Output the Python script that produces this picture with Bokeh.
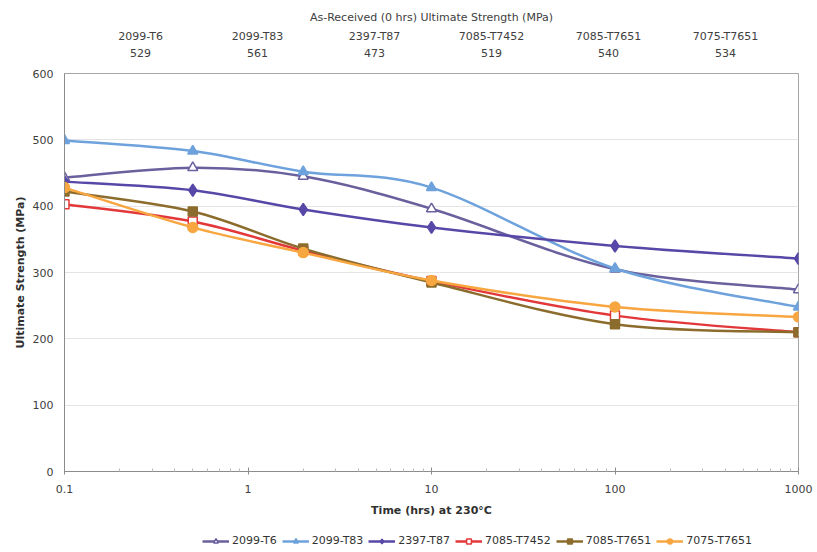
import numpy as np
from bokeh.plotting import figure
from bokeh.layouts import column
from bokeh.models import (ColumnDataSource, Legend, LegendItem, LinearAxis, Range1d,
                          FixedTicker, CustomJSTickFormatter, LinearScale)
from bokeh.embed import file_html
from bokeh.resources import INLINE

# ---- data ----
times = [0.1, 0.5, 2, 10, 100, 1000]
alloys = ["2099-T6", "2099-T83", "2397-T87", "7085-T7452", "7085-T7651", "7075-T7651"]
as_received = [529, 561, 473, 519, 540, 534]
s_2099_T6 = [443, 458, 445, 396, 305, 274]
s_2099_T83 = [499, 483, 452, 428, 306, 248]
s_2397_T87 = [437, 424, 395, 368, 340, 321]
s_7085_T7452 = [403, 377, 333, 287, 235, 210]
s_7085_T7651 = [422, 392, 336, 285, 222, 210]
s_7075_T7651 = [428, 368, 330, 288, 248, 233]

series = [s_2099_T6, s_2099_T83, s_2397_T87, s_7085_T7452, s_7085_T7651, s_7075_T7651]
colors = ["#6A609E", "#6EA2DC", "#5748A8", "#E2383A", "#8C6C2C", "#F7A640"]
markers = ["triangle", "triangle", "diamond", "square", "square", "circle"]
fills = ["white", None, None, "white", None, None]
sizes = [10, 10, 12, 9, 9, 10]

FONT = "DejaVu Sans"
TXT = "#404040"

p = figure(width=817, height=522, x_axis_type="log", output_backend="svg",
           toolbar_location=None, x_range=(0.1, 1000), y_range=(0, 600),
           frame_width=734, frame_height=398,
           min_border_left=64, min_border_right=19, min_border_top=73, min_border_bottom=51)
p.outline_line_color = "#A6A6A6"
p.outline_line_width = 1
p.background_fill_color = "white"
p.border_fill_color = "white"

# grid
p.xgrid.visible = False
p.ygrid.grid_line_color = "#E4E4E4"
p.ygrid.grid_line_width = 1

# axes
p.xaxis.ticker = FixedTicker(ticks=[0.1, 1, 10, 100, 1000],
                             minor_ticks=[m * d for d in [0.1, 1, 10, 100] for m in range(2, 10)])
p.xaxis.formatter = CustomJSTickFormatter(code="return tick.toString();")
p.xaxis.axis_label = "Time (hrs) at 230°C"
p.yaxis.axis_label = "Ultimate Strength (MPa)"
p.yaxis.ticker = FixedTicker(ticks=[0, 100, 200, 300, 400, 500, 600])
for ax in [p.xaxis[0], p.yaxis[0]]:
    ax.axis_label_text_font = FONT
    ax.axis_label_text_font_size = "11px"
    ax.axis_label_text_font_style = "bold"
    ax.axis_label_text_color = "#303030"
    ax.major_label_text_font = FONT
    ax.major_label_text_font_size = "11px"
    ax.major_label_text_color = TXT
    ax.axis_line_color = "#8C8C8C"
    ax.major_tick_line_color = "#8C8C8C"
    ax.minor_tick_line_color = "#BBBBBB"
p.xaxis.major_tick_in = 4
p.xaxis.major_tick_out = 3
p.xaxis.minor_tick_in = 3
p.xaxis.minor_tick_out = 0
p.xaxis.major_label_standoff = 10
p.xaxis.axis_label_standoff = 8
p.yaxis.major_tick_in = 0
p.yaxis.major_tick_out = 0
p.yaxis.minor_tick_in = 0
p.yaxis.minor_tick_out = 0
p.yaxis.major_label_standoff = 11
p.yaxis.axis_label_standoff = 3

# top axis with as-received values
p.extra_x_ranges = {"top": Range1d(-0.65, 5.624)}
p.extra_x_scales = {"top": LinearScale()}
top = LinearAxis(x_range_name="top")
top.ticker = FixedTicker(ticks=list(range(len(alloys))))
top.major_label_overrides = {i: f"{a}\n{v}" for i, (a, v) in enumerate(zip(alloys, as_received))}
top.axis_label = "As-Received (0 hrs) Ultimate Strength (MPa)"
top.axis_label_text_font = FONT
top.axis_label_text_font_size = "11px"
top.axis_label_text_font_style = "normal"
top.axis_label_text_color = TXT
top.major_label_text_font = FONT
top.major_label_text_font_size = "11px"
top.major_label_text_color = TXT
top.major_label_text_line_height = 1.25
top.axis_line_color = None
top.major_tick_line_color = None
top.minor_tick_line_color = None
top.major_label_standoff = 8
top.axis_label_standoff = 3
p.add_layout(top, "above")


def smooth(xs, ys):
    lx = np.log10(np.array(xs, dtype=float))
    y = np.array(ys, dtype=float)
    n = len(lx)
    out = dict(x0=[], y0=[], x1=[], y1=[], cx0=[], cy0=[], cx1=[], cy1=[])
    for i in range(n - 1):
        a = i - 1 if i > 0 else i
        b = i + 2 if i + 2 < n else i + 1
        c0x = lx[i] + (lx[i + 1] - lx[a]) / 6.0
        c0y = y[i] + (y[i + 1] - y[a]) / 6.0
        c1x = lx[i + 1] - (lx[b] - lx[i]) / 6.0
        c1y = y[i + 1] - (y[b] - y[i]) / 6.0
        out["x0"].append(10 ** lx[i]); out["y0"].append(y[i])
        out["x1"].append(10 ** lx[i + 1]); out["y1"].append(y[i + 1])
        out["cx0"].append(10 ** c0x); out["cy0"].append(c0y)
        out["cx1"].append(10 ** c1x); out["cy1"].append(c1y)
    return out


# legend strip: a small figure whose own renderers lie outside its ranges,
# so only the legend entries are visible
leg = figure(width=817, height=30, output_backend="svg", toolbar_location=None,
             x_range=(-10, -9), y_range=(-10, -9),
             x_axis_location=None, y_axis_location=None, min_border=0)
leg.grid.visible = False
leg.outline_line_color = None
leg.background_fill_color = "white"
leg.border_fill_color = "white"

items = []
for name, vals, col, mk, fill, sz in zip(alloys, series, colors, markers, fills, sizes):
    src = ColumnDataSource(smooth(times, vals))
    p.bezier(x0="x0", y0="y0", x1="x1", y1="y1", cx0="cx0", cy0="cy0", cx1="cx1", cy1="cy1",
             source=src, line_color=col, line_width=2.5)
    p.scatter(x=times, y=vals, marker=mk, size=sz, line_color=col, line_width=1.5,
              fill_color=fill if fill else col)
    ln2 = leg.line(x=times, y=vals, line_color=col, line_width=2.5)
    sc2 = leg.scatter(x=times, y=vals, marker=mk, size=sz, line_color=col, line_width=1.5,
                      fill_color=fill if fill else col)
    items.append(LegendItem(label=name, renderers=[ln2, sc2]))

legend = Legend(items=items, orientation="horizontal", location=(138, 5),
                label_text_font=FONT, label_text_font_size="11px", label_text_color="#333333",
                glyph_width=27, glyph_height=12, label_height=12, label_standoff=3, spacing=5,
                padding=0, margin=0, border_line_color=None, background_fill_alpha=0)
leg.add_layout(legend, "center")

layout = column(p, leg, spacing=0)
open("out.html", "w").write(file_html(layout, INLINE))
